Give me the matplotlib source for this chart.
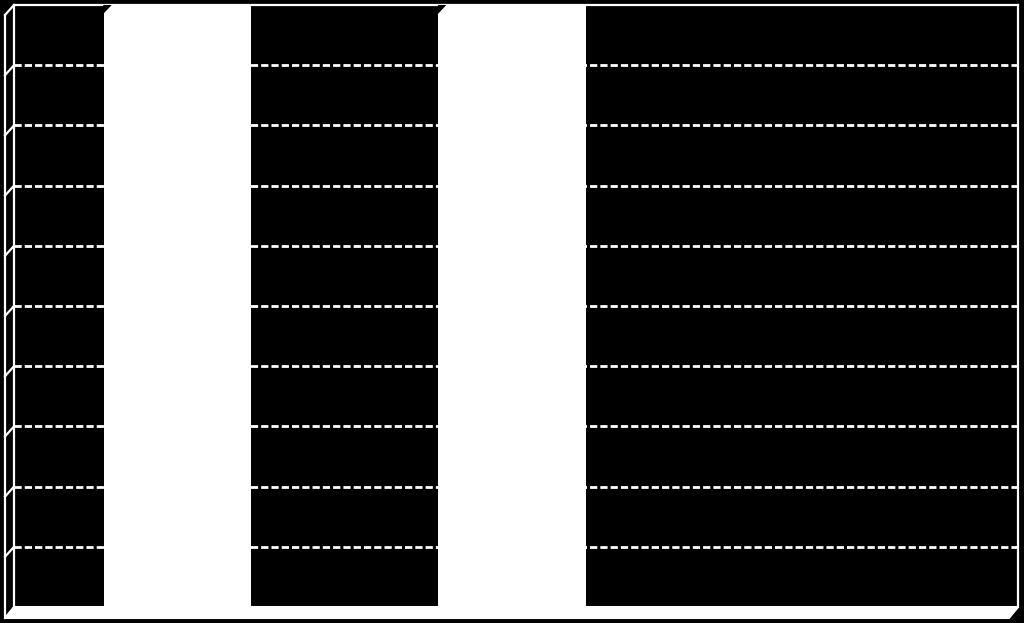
import matplotlib
matplotlib.use('Agg')
import matplotlib.pyplot as plt
from matplotlib.patches import Polygon

# Chart data (labels are black on black in the original, so not visible)
categories = ['Category 1', 'Category 2', 'Category 3']
values = [10, 10, 0]
y_ticks = list(range(0, 11))

W, H = 1024, 623
fig = plt.figure(figsize=(W / 100, H / 100), dpi=100, facecolor='black')

# back wall of the 3D chart
left, right, top, bottom = 14, 1018, 5, 607
ax = fig.add_axes([left / W, (H - bottom) / H, (right - left) / W, (bottom - top) / H])
ax.set_facecolor('black')

x = list(range(len(categories)))
bars = ax.bar(x, values, width=0.44, color='white', zorder=3)

ax.set_xlim(-0.488, len(categories) - 0.488)
ax.set_ylim(0, 10)
ax.set_yticks(y_ticks[1:-1])
ax.set_xticks(x)
ax.set_xticklabels(categories, color='black')
ax.tick_params(length=0, labelleft=False, labelbottom=False)
ax.set_axisbelow(True)
ax.grid(axis='y', color='white', linestyle=(0, (2.6, 1.1)), linewidth=2)
ax.grid(axis='x', visible=False)
for side in ['top', 'right', 'left']:
    ax.spines[side].set_color('white')
    ax.spines[side].set_linewidth(1.6)
ax.spines['bottom'].set_visible(False)

# overlay in pixel coordinates for the 3D wall and floor
ov = fig.add_axes([0, 0, 1, 1], zorder=5)
ov.set_xlim(0, W)
ov.set_ylim(H, 0)
ov.axis('off')
ov.patch.set_alpha(0)

depth_x, depth_y = 9, 11

# floor
ov.add_patch(Polygon([(left, bottom), (right, bottom), (right - depth_x, bottom + depth_y),
                      (left - depth_x, bottom + depth_y)], closed=True,
                     facecolor='white', edgecolor='white', lw=1.5))

# left wall outline and tick diagonals
ov.plot([left - depth_x, left - depth_x], [top + depth_y - 1, bottom + depth_y], color='white', lw=1.6)
for v in y_ticks[1:]:
    y = H - ax.transData.transform((0, v))[1]
    ov.plot([left - depth_x, left], [y + depth_y - 1, y], color='white', lw=1.6)

# bevel of the bar tops
for p in bars.patches:
    if p.get_height() <= 0:
        continue
    px, py = ax.transData.transform((p.get_x(), p.get_height()))
    py = H - py
    ov.add_patch(Polygon([(px - 0.5, py), (px + 8, py), (px - 0.5, py + 9)], closed=True,
                         facecolor='black', edgecolor='none'))

fig.savefig('out.png', dpi=100, facecolor='black')
